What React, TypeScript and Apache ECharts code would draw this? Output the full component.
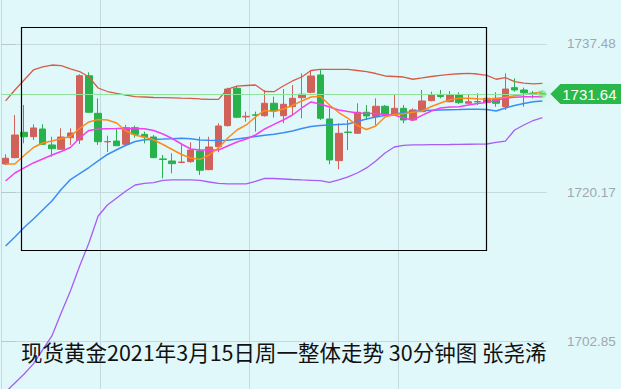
import React, { useEffect, useRef } from "react";
import * as echarts from "echarts";

const categories = [
  "1","2","3","4","5","6","7","8","9","10","11","12","13","14","15","16","17","18","19","20",
  "21","22","23","24","25","26","27","28","29","30","31","32","33","34","35","36","37","38","39","40",
  "41","42","43","44","45","46","47","48","49","50","51","52","53","54","55","56","57","58","59",
];

const openVals = [
  1723.49, 1724.23, 1727.19, 1726.67, 1727.57, 1725.71, 1725.21, 1726.56, 1726.29, 1733.78,
  1729.40, 1726.07, 1726.17, 1725.79, 1727.72, 1726.95, 1726.64, 1724.08, 1723.84, 1723.66,
  1723.76, 1725.01, 1722.83, 1725.51, 1727.96, 1732.32, 1728.97, 1729.22, 1729.12, 1730.57,
  1729.12, 1730.17, 1731.22, 1731.85, 1733.87, 1728.74, 1723.88, 1727.21, 1727.07, 1729.52,
  1729.01, 1730.22, 1729.20, 1729.98, 1728.62, 1729.59, 1730.87, 1731.50, 1730.75, 1731.53,
  1730.57, 1730.77, 1730.68, 1731.15, 1730.17, 1732.39, 1732.12, 1731.75, 1731.68,
];
const closeVals = [
  1724.16, 1726.87, 1726.67, 1727.69, 1725.79, 1725.28, 1726.64, 1727.11, 1733.78, 1729.52,
  1726.09, 1726.11, 1725.62, 1727.72, 1726.95, 1726.64, 1724.23, 1724.02, 1723.53, 1723.72,
  1725.12, 1722.76, 1725.47, 1727.92, 1732.23, 1728.94, 1729.05, 1729.18, 1730.57, 1729.67,
  1730.45, 1731.15, 1731.62, 1733.75, 1728.82, 1723.96, 1727.07, 1727.17, 1729.52, 1729.09,
  1730.22, 1729.29, 1729.98, 1728.62, 1729.79, 1730.84, 1731.53, 1731.36, 1731.53, 1730.64,
  1730.75, 1730.73, 1731.15, 1730.57, 1732.23, 1732.12, 1731.80, 1731.71, 1731.64,
];
const lowVals = [
  1723.38, 1724.15, 1725.90, 1726.29, 1725.71, 1724.34, 1725.12, 1725.71, 1725.82, 1729.44,
  1725.71, 1724.89, 1725.60, 1725.71, 1726.56, 1725.90, 1724.16, 1721.82, 1722.41, 1723.62,
  1723.64, 1722.21, 1722.76, 1724.86, 1727.84, 1728.82, 1728.42, 1727.26, 1729.01, 1728.89,
  1728.24, 1729.20, 1728.82, 1731.73, 1728.62, 1723.46, 1722.87, 1725.12, 1726.99, 1728.62,
  1728.04, 1729.20, 1729.15, 1728.24, 1728.50, 1729.55, 1730.80, 1731.15, 1730.70, 1730.49,
  1730.55, 1730.37, 1730.37, 1730.17, 1729.79, 1731.92, 1730.17, 1731.15, 1731.50,
];
const highVals = [
  1724.62, 1729.20, 1730.37, 1728.12, 1728.12, 1726.67, 1727.65, 1727.65, 1733.95, 1734.18,
  1731.15, 1726.79, 1727.57, 1728.04, 1727.96, 1727.26, 1726.87, 1724.54, 1724.74, 1725.90,
  1726.02, 1726.67, 1726.67, 1728.24, 1732.39, 1732.62, 1729.59, 1729.59, 1732.12, 1731.34,
  1732.23, 1732.70, 1734.06, 1734.45, 1734.45, 1729.98, 1728.24, 1728.62, 1730.57, 1730.37,
  1731.15, 1730.37, 1731.62, 1730.37, 1729.98, 1732.12, 1731.92, 1732.12, 1731.99, 1731.85,
  1731.53, 1731.73, 1731.92, 1731.85, 1734.06, 1733.48, 1732.39, 1731.99, 1731.80,
];

const upperBand = [
  1730.84, 1732.12, 1733.28, 1734.45, 1734.80, 1735.03, 1734.97, 1734.57, 1734.27, 1733.63,
  1732.35, 1731.94, 1731.73, 1731.53, 1731.34, 1731.30, 1731.24, 1731.22, 1731.19, 1731.16,
  1731.15, 1731.07, 1731.03, 1731.03, 1732.23, 1732.58, 1732.64, 1732.70, 1731.94, 1731.92,
  1732.58, 1733.17, 1733.63, 1734.39, 1734.53, 1734.53, 1734.53, 1734.51, 1734.39, 1734.27,
  1734.04, 1733.75, 1733.69, 1733.63, 1733.37, 1733.52, 1733.69, 1733.83, 1733.95, 1734.01,
  1734.06, 1733.98, 1733.81, 1733.37, 1733.57, 1733.09, 1732.93, 1732.82, 1732.90,
];
const middleBand = [
  1721.51, 1722.44, 1723.03, 1723.61, 1724.07, 1724.54, 1724.95, 1725.41, 1726.52, 1727.40,
  1727.57, 1727.61, 1727.63, 1727.66, 1727.63, 1727.60, 1727.40, 1726.99, 1726.46, 1725.82,
  1725.24, 1725.12, 1725.12, 1725.12, 1725.59, 1726.06, 1726.41, 1726.87, 1727.57, 1728.10,
  1728.62, 1729.20, 1730.02, 1730.72, 1730.49, 1730.14, 1729.79, 1729.61, 1729.44, 1729.40,
  1729.38, 1729.26, 1729.20, 1728.85, 1728.62, 1729.15, 1729.67, 1730.02, 1730.14, 1730.17,
  1730.37, 1730.54, 1730.66, 1730.89, 1731.19, 1731.28, 1731.33, 1731.34, 1731.34,
];
const lowerBand = [
  1696.91, 1697.96, 1699.01, 1700.18, 1701.81, 1703.44, 1706.12, 1708.69, 1711.60, 1714.28,
  1717.43, 1718.71, 1719.53, 1720.34, 1721.04, 1721.22, 1721.31, 1721.57, 1721.63, 1721.63,
  1721.63, 1721.57, 1721.39, 1721.22, 1721.16, 1721.16, 1721.16, 1721.45, 1721.82, 1721.80,
  1721.74, 1721.68, 1721.63, 1721.59, 1721.54, 1721.34, 1721.63, 1721.98, 1722.44, 1723.03,
  1723.84, 1724.77, 1725.47, 1725.65, 1725.71, 1725.73, 1725.74, 1725.75, 1725.76, 1725.78,
  1725.79, 1725.80, 1725.82, 1726.00, 1726.15, 1727.45, 1728.04, 1728.56, 1728.89,
];
const maShort = [
  1723.49, 1723.49, 1724.48, 1725.41, 1725.94, 1726.17, 1726.43, 1726.70, 1727.65, 1728.39,
  1728.68, 1728.62, 1728.27, 1727.34, 1726.84, 1726.64, 1726.29, 1725.76, 1725.18, 1724.60,
  1724.19, 1724.02, 1724.54, 1725.36, 1726.52, 1727.45, 1728.04, 1728.97, 1729.73, 1729.61,
  1729.90, 1730.31, 1730.84, 1731.30, 1731.38, 1730.37, 1729.49, 1728.80, 1727.98, 1727.51,
  1727.92, 1728.97, 1729.26, 1729.34, 1729.52, 1729.67, 1730.19, 1730.60, 1730.98, 1731.15,
  1731.15, 1731.09, 1731.05, 1731.13, 1731.28, 1731.44, 1731.59, 1731.71, 1731.92,
];
const maLong = [
  1713.93, 1714.98, 1716.09, 1717.08, 1718.13, 1719.18, 1720.52, 1721.68, 1722.38, 1723.08,
  1723.84, 1724.60, 1725.15, 1725.67, 1726.11, 1726.31, 1726.35, 1726.39, 1726.44, 1726.50,
  1726.43, 1726.29, 1726.25, 1726.22, 1726.25, 1726.41, 1726.56, 1726.70, 1726.84, 1726.95,
  1727.14, 1727.34, 1727.63, 1727.86, 1727.98, 1728.04, 1728.10, 1728.15, 1728.45, 1728.74,
  1728.97, 1729.15, 1729.32, 1729.46, 1729.59, 1729.73, 1729.76, 1729.79, 1729.81, 1729.83,
  1729.86, 1729.88, 1729.84, 1729.67, 1730.02, 1730.31, 1730.54, 1730.74, 1730.84,
];

const yTickValues = [1702.85, 1720.17, 1737.48];
const lastPrice = 1731.64;
const titleText = "现货黄金2021年3月15日周一整体走势 30分钟图 张尧浠";

const Y_MIN = 1697.255;
const Y_MAX = 1742.61;
const vGridPx = [99.5, 248.5, 397.5];
const gridColor = "#c4dadf";
const bgColor = "#e1f8fb";

export default function App() {
  const ref = useRef<HTMLDivElement>(null);

  useEffect(() => {
    if (!ref.current) return;
    const chart = echarts.init(ref.current, undefined, { renderer: "svg" });
    const candleData = openVals.map((o, i) => [o, closeVals[i], lowVals[i], highVals[i]]);
    const lineBase = (name: string, data: number[], color: string, width: number) => ({
      name,
      type: "line",
      data,
      xAxisIndex: 0,
      yAxisIndex: 0,
      showSymbol: false,
      symbol: "none",
      smooth: false,
      silent: true,
      lineStyle: { color, width },
      z: 3,
    });

    const option: any = {
      animation: false,
      backgroundColor: bgColor,
      title: {
        text: titleText,
        left: 21,
        top: 341,
        padding: 0,
        textStyle: {
          fontSize: 21.5,
          fontWeight: "normal",
          color: "#111111",
          fontFamily: "Noto Sans CJK SC",
        },
      },
      grid: { left: 1, right: 74, top: 0, bottom: 0, containLabel: false },
      xAxis: [
        {
          type: "category",
          data: categories,
          boundaryGap: true,
          axisLine: { show: false },
          axisTick: { show: false },
          axisLabel: { show: false },
          splitLine: { show: false },
        },
        {
          type: "value",
          min: 0,
          max: 546,
          position: "top",
          axisLine: { show: false },
          axisTick: { show: false, customValues: vGridPx },
          axisLabel: { show: false, customValues: vGridPx },
          splitLine: { show: true, lineStyle: { color: gridColor, width: 1 } },
        },
      ],
      yAxis: {
        type: "value",
        position: "right",
        min: Y_MIN,
        max: Y_MAX,
        scale: true,
        axisLine: { show: true, lineStyle: { color: gridColor, width: 1 } },
        axisTick: {
          show: true,
          length: 15,
          customValues: yTickValues,
          lineStyle: { color: "#b5c9cf" },
        },
        axisLabel: {
          customValues: yTickValues,
          margin: 20,
          color: "#9da8ae",
          fontSize: 13.5,
          fontFamily: "Liberation Sans, Arial, sans-serif",
          formatter: (v: number) => v.toFixed(2),
        },
        splitLine: { show: true, lineStyle: { color: gridColor, width: 1 } },
      },
      graphic: [
        {
          type: "rect",
          z: 100,
          shape: { x: 21.5, y: 27.5, width: 465, height: 223 },
          style: { fill: "none", stroke: "#000000", lineWidth: 1.2 },
          silent: true,
        },
      ],
      series: [
        {
          name: "K",
          type: "candlestick",
          data: candleData,
          barWidth: 7,
          z: 2,
          itemStyle: {
            color: "#d0625a",
            color0: "#28b24b",
            borderColor: "#d0625a",
            borderColor0: "#28b24b",
            borderWidth: 1,
          },
          markLine: {
            silent: true,
            symbol: "none",
            label: { show: false },
            lineStyle: { color: "#8fe39b", width: 1, type: "solid" },
            data: [{ yAxis: lastPrice }],
          },
          markPoint: {
            silent: true,
            data: [
              {
                coord: [categories[categories.length - 1], lastPrice],
                symbol: "circle",
                symbolSize: 8,
                itemStyle: {
                  color: "rgba(110,225,120,0.55)",
                  shadowBlur: 16,
                  shadowColor: "rgba(60,210,80,0.9)",
                },
                label: { show: false },
              },
              {
                coord: [categories[categories.length - 1], lastPrice],
                symbol: "path://M0,10L10,0L72,0L72,20L10,20Z",
                symbolSize: [72, 20],
                symbolOffset: [44, 0],
                itemStyle: { color: "#2bb84b" },
                label: {
                  show: true,
                  position: "inside",
                  offset: [3, 0],
                  formatter: lastPrice.toFixed(2),
                  color: "#ffffff",
                  fontSize: 15,
                  fontFamily: "Liberation Sans, Arial, sans-serif",
                },
              },
            ],
          },
        },
        lineBase("upper", upperBand, "#d65c47", 1.3),
        lineBase("lower", lowerBand, "#a85cf6", 1.3),
        lineBase("long", maLong, "#3b8cf6", 1.5),
        lineBase("middle", middleBand, "#f23ff0", 1.5),
        lineBase("short", maShort, "#ff8a1a", 1.5),
      ],
    };
    chart.setOption(option);
    return () => chart.dispose();
  }, []);

  return (
    <div
      ref={ref}
      style={{ position: "fixed", left: 0, top: 0, width: 621, height: 389, background: bgColor }}
    />
  );
}
